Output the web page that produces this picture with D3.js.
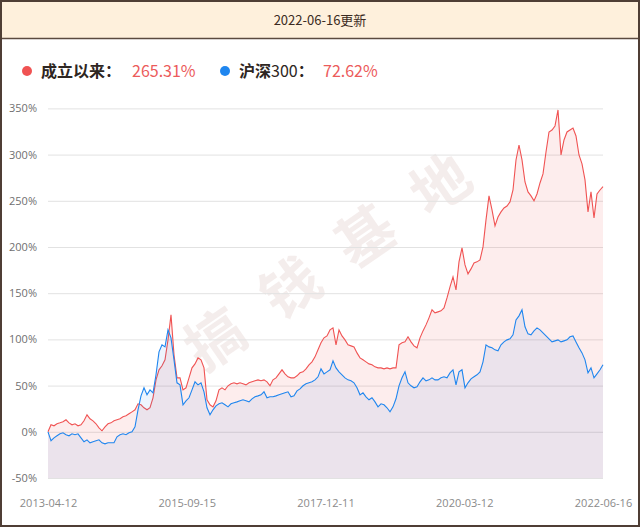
<!DOCTYPE html>
<html><head><meta charset="utf-8">
<script src="https://cdn.jsdelivr.net/npm/d3@7/dist/d3.min.js"></script>
<style>body{margin:0;background:#fff}svg{display:block}</style>
</head><body><svg id="c" width="640" height="527"></svg>
<script>
// 成立以来 cumulative return (%), sampled evenly from 2013-04-12 to 2022-06-16
const fundValues = [
0,7.6,6.5,8.7,9.7,10.8,13.0,9.7,7.6,8.7,6.5,7.6,11.9,18.4,14.1,11.9,8.7,4.3,1.1,5.4,
8.7,9.7,11.9,13.0,14.1,16.2,17.3,19.5,21.6,23.8,30.3,29.2,26.0,23.8,26.0,36.8,56.2,67.1,71.4,77.9,
99.5,126.5,83.3,58.4,58.4,45.4,47.6,58.4,69.2,73.5,80.0,77.9,69.2,34.6,29.2,27.0,33.5,45.4,47.6,45.4,
49.8,51.9,53.0,51.9,53.0,51.9,50.8,53.0,54.1,55.2,56.2,55.2,56.2,54.1,49.8,56.2,58.4,62.7,67.1,62.7,
59.5,58.4,58.4,60.6,63.8,64.9,68.1,72.5,75.7,81.1,88.7,96.3,101.7,103.8,110.3,112.5,94.1,110.3,103.8,99.5,
94.1,93.0,91.9,85.4,80.0,77.9,75.7,73.5,72.5,70.3,69.2,69.2,68.1,69.2,68.1,69.2,69.2,94.1,96.3,97.3,
102.8,97.3,93.0,90.9,101.7,109.2,115.7,123.3,132.0,128.7,129.8,130.9,134.1,144.9,156.8,167.6,153.6,183.9,199.0,180.6,
170.9,176.3,182.8,183.9,186.0,200.1,229.3,255.3,240.1,222.8,232.5,238.0,242.3,244.4,248.8,261.7,294.2,310.4,294.2,270.4,
259.6,255.3,249.9,257.4,269.3,279.1,302.8,324.5,326.6,331.0,348.3,299.6,315.8,324.5,326.6,328.8,320.2,299.6,289.9,272.6,
238.0,259.6,231.5,257.4,261.7,265.31
];
// 沪深300 cumulative return (%)
const hs300Values = [
0,-9.7,-6.5,-4.3,-2.2,-1.1,-3.2,-4.3,-2.2,-3.2,-2.2,-6.5,-10.8,-8.7,-11.9,-10.8,-9.7,-8.7,-11.9,-13.0,
-11.9,-11.9,-11.9,-5.4,-3.2,-2.2,-3.2,-1.1,0,5.4,23.8,38.9,47.6,40.0,45.4,42.2,61.7,86.5,94.1,91.9,
110.3,101.7,77.9,53.0,50.8,29.2,33.5,36.8,45.4,54.1,50.8,53.0,43.3,26.0,18.4,23.8,28.1,30.3,31.4,29.2,
27.0,30.3,31.4,32.4,33.5,34.6,33.5,32.4,35.7,37.9,38.9,40.0,43.3,36.8,37.9,37.9,38.9,40.0,41.1,42.2,
43.3,37.9,38.9,44.3,46.5,49.8,51.9,53.0,54.1,56.2,59.5,68.1,62.7,64.9,67.1,76.8,69.2,64.9,61.7,58.4,
56.2,55.2,53.0,47.6,40.0,42.2,37.9,34.6,36.8,32.4,27.0,30.3,29.2,26.0,21.6,27.0,35.7,49.8,58.4,64.9,
53.0,49.8,47.6,48.7,54.1,58.4,55.2,56.2,58.4,56.2,56.2,58.4,59.5,58.4,63.8,67.1,50.8,64.9,67.1,47.6,
53.0,57.3,59.5,61.7,64.9,75.7,94.1,91.9,90.9,88.7,87.6,94.1,97.3,99.5,100.6,104.9,121.1,125.5,132.0,113.6,
106.0,104.9,109.2,112.5,110.3,107.1,103.8,100.6,97.3,98.4,99.5,97.3,98.4,99.5,102.8,103.8,97.3,90.9,85.4,77.9,
63.8,69.2,58.4,62.7,67.1,72.62
];
const xTickLabels = ["2013-04-12","2015-09-15","2017-12-11","2020-03-12","2022-06-16"];
const yTicks = [-50,0,50,100,150,200,250,300,350];
const seriesNames = ["成立以来", "沪深300"];
const seriesTotals = ["265.31%", "72.62%"];
const updateText = "2022-06-16更新";
const watermarkChars = ["搞","钱","基","地"];

const CJK = "'Noto Sans CJK SC','Noto Sans',sans-serif";
const red = "#f05353", blue = "#1f86ef";
const svg = d3.select("#c");

// background & frame
svg.append("rect").attr("width",640).attr("height",527).attr("fill","#fff");
svg.append("rect").attr("x",0).attr("y",0).attr("width",640).attr("height",38).attr("fill","#fef0dc");
svg.append("line").attr("x1",0).attr("x2",640).attr("y1",38.5).attr("y2",38.5).attr("stroke","#5b4a40").attr("stroke-width",1.5);
svg.append("text").attr("x",320).attr("y",25).attr("text-anchor","middle")
  .attr("font-family",CJK).attr("font-size",13).attr("fill","#3b2a22").text(updateText);

// legend
const legendX = [[27,41,132],[225,239,323]];
[red, blue].forEach((c,i)=>{
  svg.append("circle").attr("cx",legendX[i][0]).attr("cy",71).attr("r",5).attr("fill",c);
  const t = svg.append("text").attr("x",legendX[i][1]).attr("y",77).attr("font-family",CJK).attr("font-size",16).attr("fill","#2e2622");
  const name = seriesNames[i];
  const m = name.match(/^([^0-9]+)([0-9]*)$/);
  t.append("tspan").attr("font-weight","bold").text(m[1]);
  if (m[2]) t.append("tspan").attr("font-weight","normal").text(m[2]);
  t.append("tspan").attr("font-weight","bold").text("：");
  svg.append("text").attr("x",legendX[i][2]).attr("y",77).attr("font-family",CJK).attr("font-size",16)
    .attr("fill","#ec5b5b").text(seriesTotals[i]);
});

const x = d3.scaleLinear().domain([0, fundValues.length-1]).range([48,603]);
const y = d3.scaleLinear().domain([-50,350]).range([478,108.4]);

// watermark
const wm = svg.append("g").attr("transform","translate(328,262) rotate(-34.5)");
watermarkChars.forEach((ch,i)=>{
  wm.append("text").attr("x",(i-1.5)*91).attr("y",0).attr("dy","0.36em").attr("text-anchor","middle")
    .attr("font-family",CJK).attr("font-size",58).attr("font-weight","bold")
    .attr("fill","rgba(190,150,140,0.17)").text(ch);
});

// y axis with grid
const ya = svg.append("g").attr("transform","translate(48,0)")
  .call(d3.axisLeft(y).tickValues(yTicks).tickSize(-555).tickPadding(11).tickFormat(d=>d+"%"));
ya.select(".domain").remove();
ya.selectAll(".tick line").attr("stroke","#e2e2e2");
ya.selectAll(".tick text").attr("fill","#6f6f6f").attr("font-size",11).attr("font-family","'Open Sans',sans-serif");

// x axis labels
const n = fundValues.length-1;
const xa = svg.append("g").attr("transform","translate(0,478)")
  .call(d3.axisBottom(x).tickValues(xTickLabels.map((d,i)=>i*n/4)).tickSize(0).tickPadding(21)
    .tickFormat((d,i)=>xTickLabels[i]));
xa.select(".domain").remove();
xa.selectAll(".tick text").attr("fill","#8a8a8a").attr("font-size",11).attr("font-family","'Open Sans',sans-serif");

// series
const area = d3.area().x((d,i)=>x(i)).y0(y(-50)).y1(d=>y(d));
const line = d3.line().x((d,i)=>x(i)).y(d=>y(d));
svg.append("path").datum(fundValues).attr("d",area).attr("fill","rgba(240,80,80,0.1)");
svg.append("path").datum(fundValues).attr("d",line).attr("fill","none").attr("stroke",red).attr("stroke-width",1.1);
svg.append("path").datum(hs300Values).attr("d",area).attr("fill","rgba(30,120,225,0.08)");
svg.append("path").datum(hs300Values).attr("d",line).attr("fill","none").attr("stroke",blue).attr("stroke-width",1.1);

// outer frame
svg.append("rect").attr("x",1).attr("y",1).attr("width",638).attr("height",525)
  .attr("fill","none").attr("stroke","#4f3e35").attr("stroke-width",2);
</script></body></html>
